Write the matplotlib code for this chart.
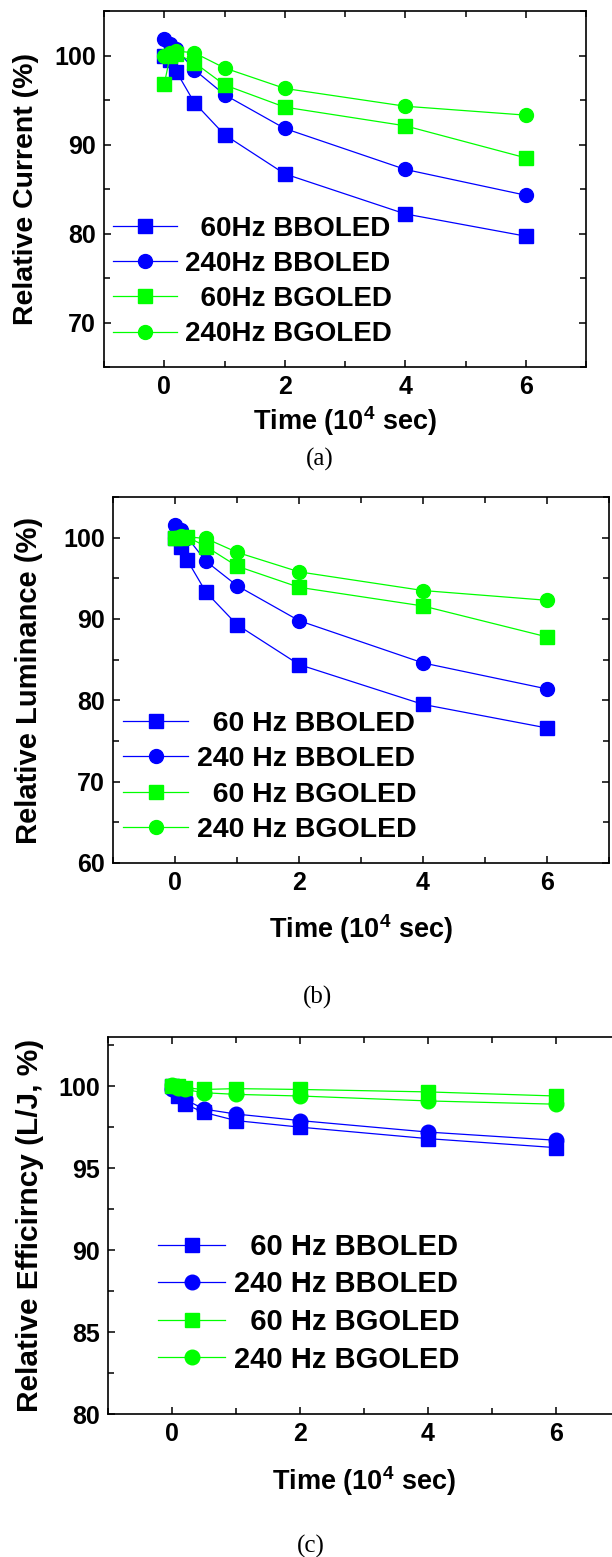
import matplotlib
matplotlib.use("Agg")
import matplotlib.pyplot as plt
from matplotlib.ticker import MultipleLocator

plt.rcParams['font.family'] = ['Liberation Sans', 'DejaVu Sans']
plt.rcParams['font.weight'] = 'bold'
plt.rcParams['mathtext.default'] = 'regular'

BLUE = '#0000ff'
GREEN = '#00ff00'

# === dados (tempo em 10^4 s) ===
tempo = [0, 0.1, 0.2, 0.5, 1, 2, 4, 6]

corrente_60_bb = [100.0, 99.5, 98.2, 94.7, 91.1, 86.7, 82.2, 79.7]
corrente_240_bb = [101.8, 101.3, 100.7, 98.4, 95.6, 91.8, 87.2, 84.3]
corrente_60_bg = [96.8, 100.0, 100.2, 99.2, 96.7, 94.2, 92.1, 88.5]
corrente_240_bg = [100.0, 100.3, 100.5, 100.3, 98.6, 96.3, 94.3, 93.3]

lumin_60_bb = [100.0, 98.9, 97.2, 93.3, 89.3, 84.4, 79.5, 76.6]
lumin_240_bb = [101.5, 101.0, 100.0, 97.1, 94.1, 89.8, 84.6, 81.4]
lumin_60_bg = [100.0, 100.0, 100.1, 98.9, 96.5, 93.9, 91.6, 87.8]
lumin_240_bg = [100.0, 100.2, 100.1, 99.9, 98.2, 95.8, 93.5, 92.3]

efic_60_bb = [100.0, 99.4, 98.9, 98.4, 97.9, 97.5, 96.8, 96.25]
efic_240_bb = [99.8, 99.6, 99.2, 98.6, 98.3, 97.9, 97.2, 96.7]
efic_60_bg = [100.0, 100.0, 99.9, 99.8, 99.85, 99.8, 99.65, 99.4]
efic_240_bg = [100.1, 99.9, 99.8, 99.6, 99.5, 99.4, 99.1, 98.9]

rotulos_a = ["  60Hz BBOLED", "240Hz BBOLED", "  60Hz BGOLED", "240Hz BGOLED"]
rotulos_bc = ["  60 Hz BBOLED", "240 Hz BBOLED", "  60 Hz BGOLED", "240 Hz BGOLED"]

estilos = [(BLUE, 's'), (BLUE, 'o'), (GREEN, 's'), (GREEN, 'o')]

fig = plt.figure(figsize=(6.12, 15.57), dpi=100)
W, H = 612.0, 1557.0


def eixo(l, t, r, b):
    return fig.add_axes([l / W, 1 - b / H, (r - l) / W, (b - t) / H])


def painel(ax, series, rotulos, ylim, ymaj, ymin, ylabel, ylab_fs, ms,
           leg_xy, leg_fs, ylab_x, xlab_y):
    for (cor, mk), ys, lab in zip(estilos, series, rotulos):
        ax.plot(tempo, ys, color=cor, marker=mk, ms=ms, lw=0.9,
                mec=cor, label=lab)
    ax.set_xlim(-1, 7)
    ax.set_ylim(*ylim)
    ax.xaxis.set_major_locator(MultipleLocator(2))
    ax.xaxis.set_minor_locator(MultipleLocator(1))
    ax.yaxis.set_major_locator(MultipleLocator(ymaj))
    ax.yaxis.set_minor_locator(MultipleLocator(ymin))
    ax.tick_params(which='both', direction='in', top=True, right=True,
                   width=1.1, labelsize=18, pad=6)
    ax.tick_params(which='major', length=5)
    ax.tick_params(which='minor', length=4)
    for s in ax.spines.values():
        s.set_linewidth(1.2)
    ax.set_ylabel(ylabel, fontsize=ylab_fs, fontweight='bold')
    ax.yaxis.set_label_coords(ylab_x, 0.5)
    ax.set_xlabel("Time (10$^{4}$ sec)", fontsize=19.5, fontweight='bold')
    ax.xaxis.set_label_coords(0.5, xlab_y)
    ax.legend(loc='center left', bbox_to_anchor=leg_xy, frameon=False,
              handlelength=2.3, handletextpad=0.3,
              labelspacing=0.33, borderpad=0, borderaxespad=0,
              prop={'weight': 'bold', 'size': leg_fs})


ax1 = eixo(104, 11, 586, 367)
painel(ax1, [corrente_60_bb, corrente_240_bb, corrente_60_bg, corrente_240_bg],
       rotulos_a, (65, 105), 10, 5, "Relative Current (%)", 20.5, 10,
       (0.019, 0.24), 20, -0.135, -0.104)

ax2 = eixo(113, 497, 609, 863)
painel(ax2, [lumin_60_bb, lumin_240_bb, lumin_60_bg, lumin_240_bg],
       rotulos_bc, (60, 105), 10, 5, "Relative Luminance (%)", 21, 10,
       (0.02, 0.235), 20.5, -0.141, -0.134)

ax3 = eixo(108, 1037, 620, 1414)
painel(ax3, [efic_60_bb, efic_240_bb, efic_60_bg, efic_240_bg],
       rotulos_bc, (80, 103), 5, 2.5, "Relative Efficirncy (L/J, %)", 21.5, 10.5,
       (0.098, 0.294), 21, -0.125, -0.133)

for txt, x, y in [("(a)", 320, 459), ("(b)", 318, 997), ("(c)", 311, 1546)]:
    fig.text(x / W, 1 - y / H, txt, ha='center', va='center',
             family='Liberation Serif', fontsize=18, fontweight='normal')

fig.savefig("out.png", dpi=100)
